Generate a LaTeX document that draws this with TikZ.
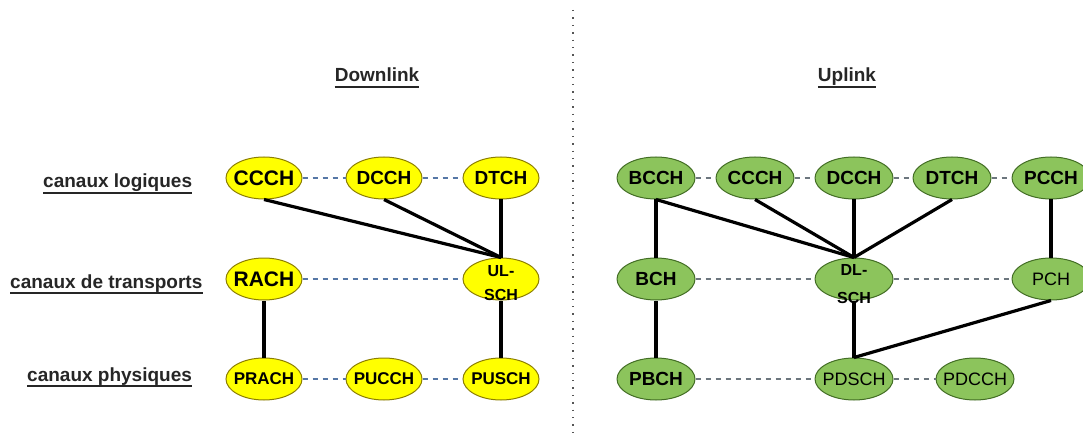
\documentclass[tikz,border=0pt]{standalone}
\usepackage{fontspec}
\setmainfont{Liberation Sans}
\usetikzlibrary{shapes.geometric}

\definecolor{dlfill}{HTML}{FFFF00}
\definecolor{dledge}{HTML}{8C7E00}
\definecolor{ulfill}{HTML}{8CC45C}
\definecolor{uledge}{HTML}{436E25}
\definecolor{dlpeer}{HTML}{5677A6}
\definecolor{ulpeer}{HTML}{6C767E}
\definecolor{divline}{HTML}{555555}

% centre a label on the node without letting it widen the ellipse
\newcommand\chtext[1]{\hbox to 0pt{\hss#1\hss}}
% two-line label: bottom line's baseline sits #1 below the node centre
\newcommand\twoline[4]{\chtext{\raisebox{-#1}[0pt][0pt]{\begin{tabular}[b]{@{}c@{}}#3\\[#2]#4\end{tabular}}}}

\begin{document}
\begin{tikzpicture}[x=1pt,y=-1pt,
  chan/.style={ellipse, draw, line width=1pt, inner sep=0pt,
               minimum width=76pt, minimum height=42pt},
  dlchan/.style={chan, fill=dlfill, draw=dledge},
  ulchan/.style={chan, fill=ulfill, draw=uledge, minimum width=78pt},
  fbig/.style={font=\fontsize{19}{22}\selectfont\bfseries},
  fhuge/.style={font=\fontsize{21}{24}\selectfont\bfseries},
  fsmall/.style={font=\fontsize{17}{20}\selectfont\bfseries},
  flight/.style={font=\fontsize{18}{21}\selectfont},
  ftwo/.style={font=\fontsize{16}{19}\selectfont\bfseries},
  maps/.style={line width=3.2pt, black},
  dlp/.style={draw=dlpeer, line width=1.2pt, dash pattern=on 5pt off 5pt},
  ulp/.style={draw=ulpeer, line width=1.2pt, dash pattern=on 5pt off 5pt},
  caption/.style={font=\fontsize{19}{22}\selectfont\bfseries, inner sep=0pt,
                  text=black!85},
  uline/.style={line width=1.6pt, black!85},
]
\useasboundingbox (0,0) rectangle (1083,438);
\clip (0,0) rectangle (1083,438);

% separator between the two directions
\draw[divline, line width=1.4pt, dash pattern=on 1.4pt off 6pt] (573,10) -- (573,434);

% headings
\node[caption, anchor=base] (hdl) at (377,82) {Downlink};
\node[caption, anchor=base] (hul) at (847,82) {Uplink};
\foreach \h in {hdl,hul}
  \draw[uline] ([yshift=-5pt]\h.base west) -- ([yshift=-5pt]\h.base east);

% row captions
\node[caption, anchor=base west] (rlog) at (43,188) {canaux logiques};
\node[caption, anchor=base west] (rtra) at (10,288) {canaux de transports};
\node[caption, anchor=base west] (rphy) at (27,381) {canaux physiques};
\foreach \r in {rlog,rtra,rphy}
  \draw[uline] ([yshift=-5pt]\r.base west) -- ([yshift=-5pt]\r.base east);

% ---- Downlink channels
\node[dlchan, fhuge]  (dccch) at (264,178) {\chtext{CCCH}};
\node[dlchan, fbig]   (ddcch) at (384,178) {\chtext{DCCH}};
\node[dlchan, fbig]   (ddtch) at (501,178) {\chtext{DTCH}};
\node[dlchan, fhuge]  (drach) at (264,279) {\chtext{RACH}};
\node[dlchan, ftwo]   (dulsch) at (501,279) {\twoline{21pt}{5pt}{UL-}{SCH}};
\node[dlchan, fsmall] (dprach) at (264,379) {\chtext{PRACH}};
\node[dlchan, fsmall] (dpucch) at (384,379) {\chtext{PUCCH}};
\node[dlchan, fsmall] (dpusch) at (501,379) {\chtext{PUSCH}};

\draw[dlp] (dccch) -- (ddcch);
\draw[dlp] (ddcch) -- (ddtch);
\draw[dlp] (drach) -- (dulsch);
\draw[dlp] (dprach) -- (dpucch);
\draw[dlp] (dpucch) -- (dpusch);

\draw[maps] (dccch.south) -- (dulsch.north);
\draw[maps] (ddcch.south) -- (dulsch.north);
\draw[maps] (ddtch.south) -- (dulsch.north);
\draw[maps] (drach.south) -- (dprach.north);
\draw[maps] (dulsch.south) -- (dpusch.north);

% ---- Uplink channels
\node[ulchan, fbig]   (ubcch) at (656,178) {\chtext{BCCH}};
\node[ulchan, fbig]   (uccch) at (755,178) {\chtext{CCCH}};
\node[ulchan, fbig]   (udcch) at (854,178) {\chtext{DCCH}};
\node[ulchan, fbig]   (udtch) at (952,178) {\chtext{DTCH}};
\node[ulchan, fbig]   (upcch) at (1051,178) {\chtext{PCCH}};
\node[ulchan, fbig]   (ubch)  at (656,279) {\chtext{BCH}};
\node[ulchan, ftwo]   (udlsch) at (854,279) {\twoline{24pt}{8.5pt}{DL-}{SCH}};
\node[ulchan, flight] (upch)  at (1051,279) {\chtext{PCH}};
\node[ulchan, fbig]   (upbch) at (656,379) {\chtext{PBCH}};
\node[ulchan, flight] (updsch) at (854,379) {\chtext{PDSCH}};
\node[ulchan, flight] (updcch) at (975,379) {\chtext{PDCCH}};

\draw[ulp] (ubcch) -- (uccch);
\draw[ulp] (uccch) -- (udcch);
\draw[ulp] (udcch) -- (udtch);
\draw[ulp] (udtch) -- (upcch);
\draw[ulp] (ubch) -- (udlsch);
\draw[ulp] (udlsch) -- (upch);
\draw[ulp] (upbch) -- (updsch);
\draw[ulp] (updsch) -- (updcch);

\draw[maps] (ubcch.south) -- (ubch.north);
\draw[maps] (ubcch.south) -- (udlsch.north);
\draw[maps] (uccch.south) -- (udlsch.north);
\draw[maps] (udcch.south) -- (udlsch.north);
\draw[maps] (udtch.south) -- (udlsch.north);
\draw[maps] (upcch.south) -- (upch.north);
\draw[maps] (ubch.south) -- (upbch.north);
\draw[maps] (udlsch.south) -- (updsch.north);
\draw[maps] (upch.south) -- (updsch.north);
\end{tikzpicture}
\end{document}
